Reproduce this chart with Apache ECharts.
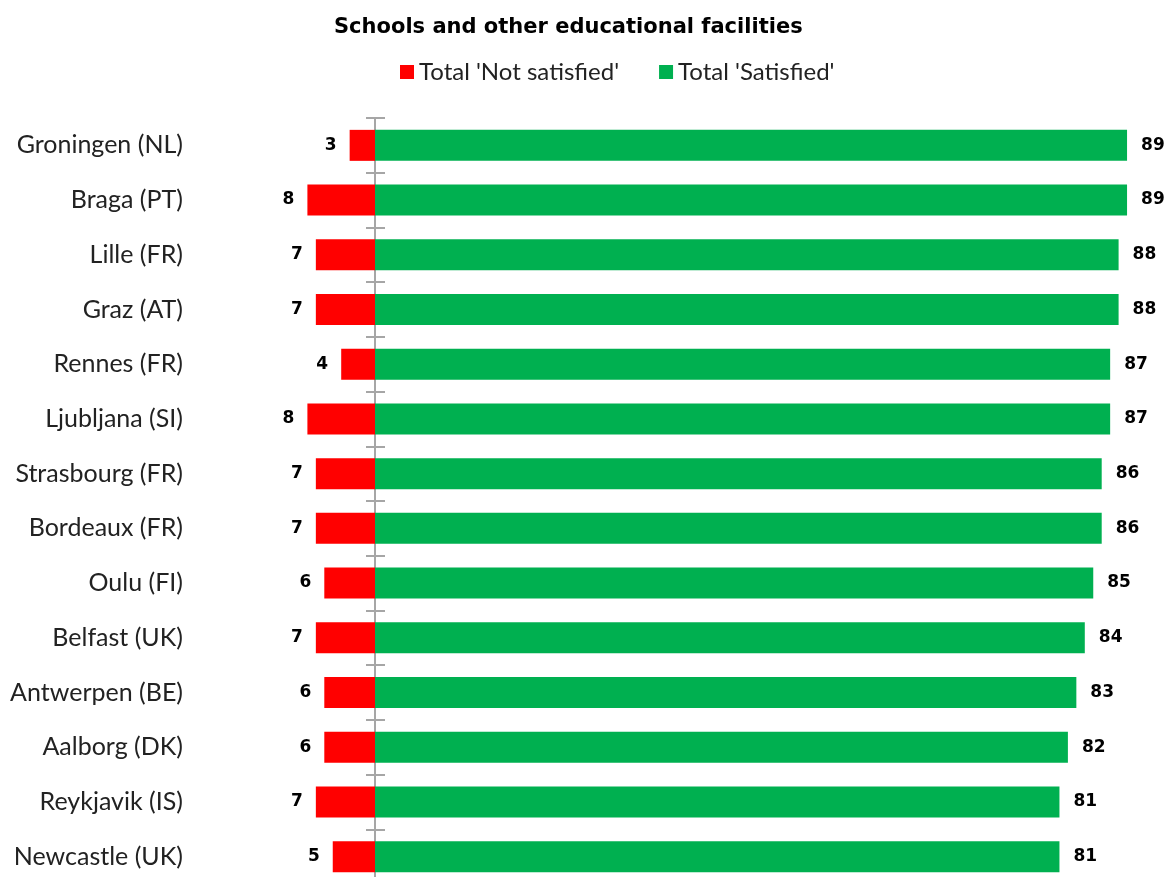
<!DOCTYPE html>
<html><head><meta charset="utf-8">
<script src="https://cdn.jsdelivr.net/npm/echarts@6/dist/echarts.min.js"></script>
<style>html,body{margin:0;padding:0;background:#fff}#c{width:1169px;height:877px}</style>
</head><body><div id="c"></div>
<script>
const categories = ["Groningen (NL)","Braga (PT)","Lille (FR)","Graz (AT)","Rennes (FR)","Ljubljana (SI)","Strasbourg (FR)","Bordeaux (FR)","Oulu (FI)","Belfast (UK)","Antwerpen (BE)","Aalborg (DK)","Reykjavik (IS)","Newcastle (UK)"];
const notSatisfied = [3,8,7,7,4,8,7,7,6,7,6,6,7,5];
const satisfied = [89,89,88,88,87,87,86,86,85,84,83,82,81,81];
const titleText = "Schools and other educational facilities";
const seriesNames = ["Total 'Not satisfied'", "Total 'Satisfied'"];

const chart = echarts.init(document.getElementById('c'), null, {renderer:'canvas'});
const labelFont = {fontFamily:'DejaVu Sans', fontWeight:'bold', fontSize:17, color:'#000'};
chart.setOption({
  animation:false,
  backgroundColor:'#fff',
  title:{text:titleText, left:329, top:12, textStyle:{fontFamily:'DejaVu Sans', fontWeight:'bold', fontSize:21, color:'#000'}},
  legend:{top:55, left:395, itemWidth:14, itemHeight:14, itemGap:40, icon:'rect',
    textStyle:{fontFamily:'Lato', fontSize:24, color:'#222'}, data:seriesNames},
  grid:{left:290.5, width:845, top:118, height:766, containLabel:false, outerBoundsMode:'none'},
  xAxis:[
    {type:'value', min:-10, max:90, show:false},
    {type:'value', min:-10, max:90, show:false}
  ],
  yAxis:[
    {type:'category', data:categories, inverse:true, position:'left',
      axisLine:{show:false}, axisTick:{show:false}, splitLine:{show:false},
      axisLabel:{margin:107.5, fontFamily:'Lato', fontSize:25, color:'#222'}},
    {type:'category', data:categories, inverse:true, position:'left',
      axisLine:{show:true, onZero:true, lineStyle:{color:'#a6a6a6', width:2}},
      axisTick:{show:true, length:9, lineStyle:{color:'#a6a6a6', width:2}},
      axisLabel:{show:false}, splitLine:{show:false}},
    {type:'category', data:categories, inverse:true, position:'right',
      axisLine:{show:true, onZero:true, onZeroAxisIndex:1, lineStyle:{color:'#a6a6a6', width:2}},
      axisTick:{show:true, length:10, lineStyle:{color:'#a6a6a6', width:2}},
      axisLabel:{show:false}, splitLine:{show:false}}
  ],
  series:[
    {name:seriesNames[0], type:'bar', stack:'s', barWidth:31, itemStyle:{color:'#ff0000'},
      data:notSatisfied.map(v=>-v),
      label:{show:true, position:'left', distance:13, formatter:p=>Math.abs(p.value), ...labelFont}},
    {name:seriesNames[1], type:'bar', stack:'s', barWidth:31, itemStyle:{color:'#00b050'},
      data:satisfied,
      label:{show:true, position:'right', distance:14, ...labelFont}}
  ]
});
</script></body></html>
